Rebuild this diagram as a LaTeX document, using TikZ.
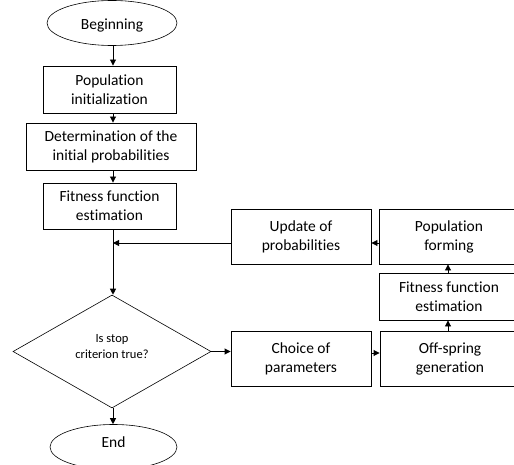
\documentclass[tikz,border=0pt]{standalone}
\usepackage{fontspec}
\setmainfont{Carlito}[Ligatures=NoCommon]
\usetikzlibrary{shapes.geometric,arrows.meta}
\begin{document}
\begin{tikzpicture}[x=1pt,y=-1pt,
  every node/.style={font=\fontsize{15.5}{19}\selectfont, align=center, inner sep=0pt},
  box/.style={draw, line width=0.9pt, rectangle},
  oval/.style={draw, line width=0.6pt, ellipse},
  dia/.style={draw, line width=0.6pt, diamond, aspect=1.75},
  arr/.style={draw, line width=0.9pt, -{Triangle[length=6pt,width=6pt]}}]
\useasboundingbox (0,0) rectangle (514,465);
\clip (0,0) rectangle (514,465);
\coordinate (axis) at (113,0);
\node[oval, minimum width=130, minimum height=45, text height=17pt, text depth=3.5pt] (begin) at (112,23) {Beginning};
\node[box, minimum width=133, minimum height=47] (pop) at (109.5,89.5) {Population\\initialization};
\node[box, minimum width=170, minimum height=47] (det) at (111,146.5) {Determination of the\\initial probabilities};
\node[box, minimum width=133, minimum height=46] (fit) at (109.5,206) {Fitness function\\estimation};
\node[box, minimum width=140, minimum height=55] (upd) at (301,236.5) {Update of\\probabilities};
\node[box, minimum width=140, minimum height=55] (popf) at (449,236.5) {Population\\forming};
\node[box, minimum width=140, minimum height=47] (fitr) at (449,296.5) {Fitness function\\estimation};
\node[box, minimum width=140, minimum height=55] (off) at (450,358.5) {Off-spring\\generation};
\node[box, minimum width=140, minimum height=55] (cho) at (301,358.5) {Choice of\\parameters};
\node[dia, minimum width=198, minimum height=113] (stop) at (112,351.5) {};
\node[font=\fontsize{12.5}{16}\selectfont] (stoptxt) at (112,346.5) {Is stop\\criterion true?};
\node[oval, minimum width=127, minimum height=45, text height=10.5pt, text depth=9.5pt] (end) at (113.5,447) {End};
\coordinate (merge) at (113,243);
% vertical chain
\draw[arr] (begin.south -| axis) -- (pop.north -| axis);
\draw[arr] (pop.south -| axis) -- (det.north -| axis);
\draw[arr] (det.south -| axis) -- (fit.north -| axis);
\draw[arr] (fit.south -| axis) -- (stop.north -| axis);
\draw[arr] (stop.south -| axis) -- (end.north -| axis);
% loop
\draw[arr] (upd.west |- merge) -- (merge);
\draw[arr] (popf.west |- merge) -- (upd.east |- merge);
\draw[arr] (fitr.north -| 448,0) -- (popf.south -| 448,0);
\draw[arr] (off.north -| 448,0) -- (fitr.south -| 448,0);
\draw[arr] (stop.east) -- (cho.west |- stop.east);
\draw[arr] (cho.east |- 0,353) -- (off.west |- 0,353);
\end{tikzpicture}
\end{document}
